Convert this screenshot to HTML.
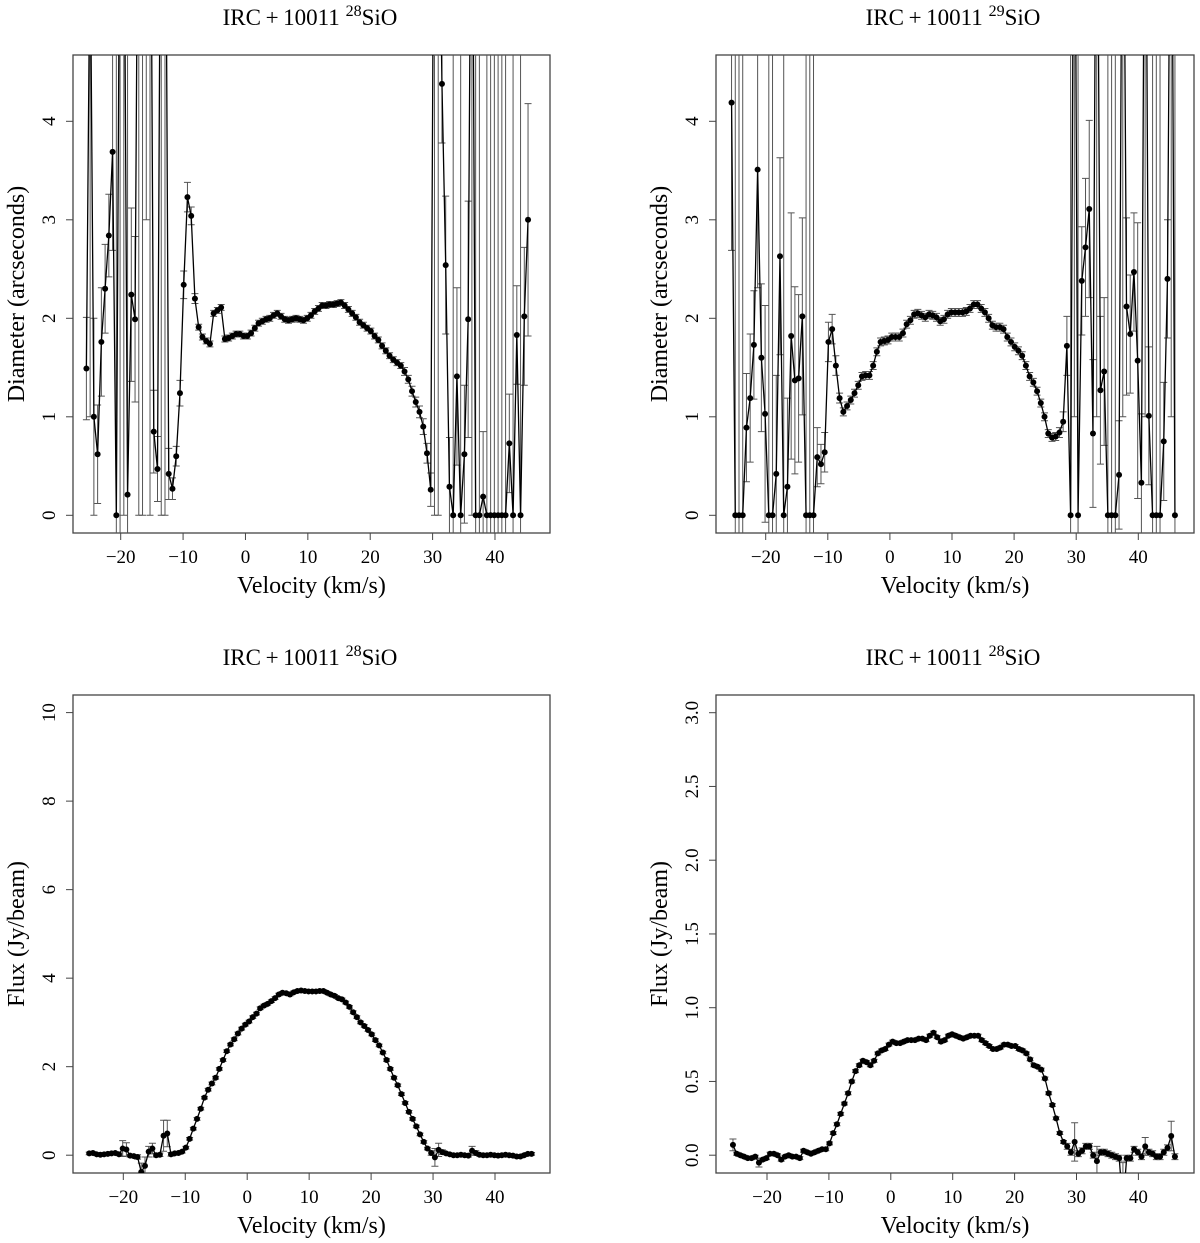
<!DOCTYPE html>
<html><head><meta charset="utf-8"><title>IRC+10011 SiO</title>
<style>
html,body{margin:0;padding:0;background:#fff;width:1200px;height:1243px;overflow:hidden;position:relative;}
svg{display:block;position:absolute;left:0;top:0;font-family:"Liberation Serif","DejaVu Serif",serif;}
</style></head>
<body>
<svg id="fig" width="1200" height="1243" viewBox="0 0 1200 1243" xmlns="http://www.w3.org/2000/svg">
<defs>
<clipPath id="c1"><rect x="73" y="55" width="477" height="478"/></clipPath>
<clipPath id="c2"><rect x="716" y="55" width="478" height="478"/></clipPath>
<clipPath id="c3"><rect x="73" y="695" width="477" height="478"/></clipPath>
<clipPath id="c4"><rect x="716" y="695" width="478" height="478"/></clipPath>
</defs>
</svg>
<script>
const velocity = [-25.5,-24.9,-24.3,-23.7,-23.1,-22.5,-21.9,-21.3,-20.7,-20.1,-19.5,-18.9,-18.3,-17.7,-17.1,-16.5,-15.9,-15.3,-14.7,-14.1,-13.5,-12.9,-12.3,-11.7,-11.1,-10.5,-9.9,-9.3,-8.7,-8.1,-7.5,-6.9,-6.3,-5.7,-5.1,-4.5,-3.9,-3.3,-2.7,-2.1,-1.5,-0.9,-0.3,0.3,0.9,1.5,2.1,2.7,3.3,3.9,4.5,5.1,5.7,6.3,6.9,7.5,8.1,8.7,9.3,9.9,10.5,11.1,11.7,12.3,12.9,13.5,14.1,14.7,15.3,15.9,16.5,17.1,17.7,18.3,18.9,19.5,20.1,20.7,21.3,21.9,22.5,23.1,23.7,24.3,24.9,25.5,26.1,26.7,27.3,27.9,28.5,29.1,29.7,30.3,30.9,31.5,32.1,32.7,33.3,33.9,34.5,35.1,35.7,36.3,36.9,37.5,38.1,38.7,39.3,39.9,40.5,41.1,41.7,42.3,42.9,43.5,44.1,44.7,45.3,45.9];

const diam28 = [1.49,6,1.0,0.62,1.76,2.3,2.84,3.69,0,7,7,0.21,2.24,1.99,8,8,7,8,0.85,0.47,8,8,0.42,0.27,0.60,1.24,2.34,3.23,3.04,2.2,1.91,1.81,1.77,1.74,2.05,2.08,2.11,1.79,1.80,1.82,1.84,1.84,1.82,1.82,1.85,1.90,1.95,1.97,1.99,2.0,2.03,2.05,2.02,1.99,1.98,1.99,2.0,1.99,1.98,2.0,2.03,2.07,2.1,2.13,2.13,2.14,2.14,2.15,2.16,2.13,2.09,2.05,2.01,1.96,1.93,1.90,1.87,1.82,1.78,1.72,1.67,1.62,1.58,1.55,1.52,1.46,1.38,1.26,1.15,1.05,0.9,0.63,0.26,8,7,4.38,2.54,0.29,0,1.41,0,0.62,1.99,8,0,0,0.19,0,0,0,0,0,0,0.73,0,1.83,0,2.02,3.0,null];
const diam28Err = [0.52,5,1.0,0.5,0.55,0.45,0.42,1.0,9,8,7,5,0.88,0.84,8,8,4,8,0.42,0.33,8,8,0.26,0.11,0.1,0.13,0.14,0.15,0.09,0.05,0.03,0.03,0.03,0.03,0.03,0.03,0.03,0.03,0.03,0.03,0.03,0.03,0.03,0.03,0.03,0.03,0.03,0.03,0.03,0.03,0.03,0.03,0.03,0.03,0.03,0.03,0.03,0.03,0.03,0.03,0.03,0.03,0.03,0.03,0.03,0.03,0.03,0.03,0.03,0.03,0.03,0.03,0.03,0.03,0.03,0.03,0.03,0.03,0.03,0.03,0.03,0.03,0.03,0.03,0.03,0.04,0.04,0.05,0.05,0.06,0.08,0.1,0.17,8,7,0.6,0.7,0.5,6,0.9,6,0.7,1.2,8,7,6,0.66,6,6,6,6,6,6,0.5,6,0.5,6,0.7,1.18,null];

const diam29 = [4.19,0,0,0,0.89,1.19,1.73,3.51,1.60,1.03,0,0,0.42,2.63,0,0.29,1.82,1.37,1.39,2.02,0,0,0,0.59,0.52,0.64,1.76,1.89,1.52,1.19,1.05,1.11,1.17,1.24,1.32,1.41,1.42,1.42,1.52,1.66,1.76,1.77,1.78,1.81,1.81,1.81,1.85,1.94,1.98,2.04,2.05,2.03,2.01,2.04,2.03,2.01,1.97,1.99,2.04,2.06,2.06,2.06,2.06,2.07,2.10,2.14,2.14,2.10,2.06,2.0,1.93,1.91,1.91,1.89,1.81,1.76,1.71,1.67,1.62,1.52,1.41,1.35,1.26,1.14,1.0,0.83,0.79,0.80,0.84,0.95,1.72,0,8,0,2.38,2.72,3.11,0.83,8,1.27,1.46,0,0,0,0.41,8,2.12,1.84,2.47,1.57,0.33,8,1.01,0,0,0,0.75,2.40,8,0];
const diam29Err = [1.5,6,6,6,0.55,0.65,0.55,1.2,0.75,1.1,6,6,1.0,1.0,6,0.9,1.25,0.95,0.85,1.0,6,6,6,0.3,0.2,0.2,0.2,0.15,0.1,0.05,0.04,0.04,0.04,0.04,0.04,0.04,0.04,0.04,0.04,0.04,0.04,0.04,0.04,0.04,0.04,0.04,0.04,0.04,0.04,0.04,0.04,0.04,0.04,0.04,0.04,0.04,0.04,0.04,0.04,0.04,0.04,0.04,0.04,0.04,0.04,0.04,0.04,0.04,0.04,0.04,0.04,0.04,0.04,0.04,0.04,0.04,0.04,0.04,0.04,0.04,0.04,0.04,0.04,0.04,0.04,0.04,0.04,0.04,0.05,0.1,0.3,6,7,6,0.55,0.7,0.9,0.75,7,0.75,0.75,6,6,6,0.55,7,0.9,0.6,0.6,1.4,0.7,7,0.7,6,6,6,0.6,0.6,7,6];

const flux28 = [0.04,0.05,0.02,0.01,0.02,0.03,0.04,0.05,0.02,0.15,0.13,-0.01,-0.02,-0.04,-0.38,-0.24,0.08,0.15,0.0,0.01,0.44,0.49,0.02,0.04,0.05,0.08,0.17,0.37,0.6,0.82,1.05,1.3,1.48,1.62,1.75,1.95,2.15,2.35,2.5,2.62,2.75,2.86,2.95,3.02,3.12,3.2,3.32,3.38,3.42,3.48,3.55,3.63,3.67,3.66,3.63,3.68,3.71,3.72,3.71,3.70,3.70,3.70,3.71,3.71,3.67,3.63,3.6,3.55,3.52,3.45,3.35,3.23,3.12,3.0,2.92,2.83,2.73,2.6,2.48,2.32,2.15,1.95,1.75,1.58,1.38,1.18,0.98,0.82,0.65,0.47,0.3,0.15,0.05,-0.05,0.12,0.07,0.04,0.02,0.0,0.0,0.01,0.0,-0.01,0.1,0.05,0.01,0.0,0.0,0.01,0.0,-0.01,0.0,0.01,0.0,-0.01,-0.03,-0.03,0.0,0.03,0.03];
const flux28Err = [0.03,0.03,0.03,0.03,0.03,0.03,0.03,0.03,0.03,0.18,0.15,0.03,0.03,0.05,0.2,0.2,0.12,0.12,0.04,0.04,0.35,0.3,0.04,0.03,0.03,0.03,0.03,0.03,0.03,0.03,0.03,0.03,0.03,0.03,0.03,0.03,0.03,0.03,0.03,0.03,0.03,0.03,0.03,0.03,0.03,0.03,0.03,0.03,0.03,0.03,0.03,0.03,0.03,0.03,0.03,0.03,0.03,0.03,0.03,0.03,0.03,0.03,0.03,0.03,0.03,0.03,0.03,0.03,0.03,0.03,0.03,0.03,0.03,0.03,0.03,0.03,0.03,0.03,0.03,0.03,0.03,0.03,0.03,0.03,0.03,0.03,0.03,0.03,0.03,0.03,0.03,0.03,0.05,0.2,0.15,0.05,0.03,0.03,0.03,0.03,0.03,0.03,0.03,0.1,0.05,0.03,0.03,0.03,0.03,0.03,0.03,0.03,0.03,0.03,0.03,0.03,0.03,0.03,0.03,0.03];

const flux29 = [0.07,0.01,0.0,-0.01,-0.02,-0.02,-0.01,-0.05,-0.03,-0.02,0.01,0.01,0.0,-0.03,-0.01,0.0,-0.01,-0.01,-0.02,0.03,0.02,0.01,0.02,0.03,0.04,0.04,0.08,0.15,0.21,0.28,0.35,0.42,0.5,0.57,0.61,0.64,0.63,0.61,0.64,0.69,0.71,0.72,0.75,0.77,0.76,0.76,0.77,0.78,0.78,0.78,0.79,0.79,0.78,0.81,0.83,0.80,0.77,0.78,0.81,0.82,0.81,0.80,0.79,0.80,0.81,0.81,0.81,0.78,0.76,0.74,0.72,0.72,0.73,0.75,0.75,0.74,0.74,0.72,0.71,0.69,0.65,0.61,0.60,0.58,0.52,0.42,0.34,0.25,0.15,0.09,0.06,0.02,0.09,0.01,0.03,0.06,0.06,0.0,-0.04,0.02,0.02,0.01,0.0,-0.01,-0.02,-0.35,-0.02,-0.02,0.04,0.02,-0.01,0.06,0.02,0.01,-0.01,-0.01,0.02,0.05,0.13,-0.01];
const flux29Err = [0.04,0.01,0.01,0.01,0.01,0.01,0.01,0.03,0.01,0.01,0.01,0.01,0.01,0.01,0.01,0.01,0.01,0.01,0.01,0.01,0.01,0.01,0.01,0.01,0.01,0.01,0.01,0.01,0.01,0.01,0.01,0.01,0.01,0.01,0.01,0.01,0.01,0.01,0.01,0.01,0.01,0.01,0.01,0.01,0.01,0.01,0.01,0.01,0.01,0.01,0.01,0.01,0.01,0.01,0.01,0.01,0.01,0.01,0.01,0.01,0.01,0.01,0.01,0.01,0.01,0.01,0.01,0.01,0.01,0.01,0.01,0.01,0.01,0.01,0.01,0.01,0.01,0.01,0.01,0.01,0.01,0.01,0.01,0.01,0.01,0.01,0.01,0.01,0.01,0.01,0.02,0.02,0.13,0.02,0.02,0.02,0.02,0.02,0.1,0.02,0.02,0.02,0.02,0.02,0.02,0.3,0.02,0.02,0.02,0.02,0.02,0.06,0.02,0.02,0.02,0.02,0.02,0.02,0.1,0.02];

const xTicks = [-20,-10,0,10,20,30,40];
const yTicksDiam = [0,1,2,3,4];
const yTicksFlux28 = [0,2,4,6,8,10];
const yTicksFlux29 = [0,0.5,1.0,1.5,2.0,2.5,3.0];
const yTickLabelsFlux29 = ["0.0","0.5","1.0","1.5","2.0","2.5","3.0"];

const NS = "http://www.w3.org/2000/svg";
const svg = document.getElementById('fig');
function mk(tag, attrs, parent){
  const e = document.createElementNS(NS, tag);
  for (const k in attrs) e.setAttribute(k, attrs[k]);
  (parent||svg).appendChild(e);
  return e;
}

function panel(p){
  const g = mk('g', {});
  
  
  const X = v => p.xm20 + (v + 20) * p.kx;
  const Y = v => p.y0 - v * p.ky;
  const top = p.by, bot = p.by + p.bh;
  const cl = y => Math.max(top - 2, Math.min(bot + 2, y));
  const t = mk('text', {x: p.tx, y: p.ty, 'text-anchor':'middle', 'font-size':23, fill:'#000'}, g);
  
  
  t.appendChild(document.createTextNode('IRC\u2009+\u200910011 '));
  const sup = mk('tspan', {'font-size':16, dy:-9}, t); sup.textContent = p.iso;
  const rest = mk('tspan', {dy:9}, t); rest.textContent = 'SiO';
  const box = mk('rect', {x:p.bx, y:p.by, width:p.bw, height:p.bh, fill:'none', stroke:'#444', 'stroke-width':1.3}, g);
  
  
  xTicks.forEach(v => {
    const tk = mk('line', {x1:X(v), x2:X(v), y1:bot, y2:bot+7, stroke:'#444', 'stroke-width':1}, g);
    
    
    const tl = mk('text', {x:X(v), y:bot+30, 'text-anchor':'middle', 'font-size':19}, g);
    
    
    tl.textContent = v < 0 ? '\u2212' + Math.abs(v) : String(v);
  });
  const xt = mk('text', {x:p.bx+p.bw/2, y:bot+60, 'text-anchor':'middle', 'font-size':24}, g);
  
  
  xt.textContent = 'Velocity (km/s)';
  p.yticks.forEach((v, i) => {
    const tk = mk('line', {x1:p.bx-7, x2:p.bx, y1:Y(v), y2:Y(v), stroke:'#444', 'stroke-width':1}, g);
    
    
    const lx = p.bx - 18, ly = Y(v);
    const tl = mk('text', {x:lx, y:ly, 'text-anchor':'middle', 'font-size':19, transform:`rotate(-90 ${lx} ${ly})`}, g);
    
    
    tl.textContent = p.ylabels ? p.ylabels[i] : String(v);
  });
  const yx = p.bx - 49, yy = p.by + p.bh/2;
  const yt = mk('text', {x:yx, y:yy, 'text-anchor':'middle', 'font-size':24, transform:`rotate(-90 ${yx} ${yy})`}, g);
  
  
  yt.textContent = p.ytitle;
  const dg = mk('g', {'clip-path':`url(#${p.clip})`}, g);
  
  
  velocity.forEach((v, i) => {
    const val = p.vals[i], e = p.errs[i];
    if (val === null || e === null) return;
    const x = X(v), y1 = cl(Y(val - e)), y2 = cl(Y(val + e));
    const eb = mk('path', {d:`M${x},${y1}V${y2}M${x-3.5},${y1}H${x+3.5}M${x-3.5},${y2}H${x+3.5}`, stroke:'#555', 'stroke-width':1, fill:'none'}, dg);
    
    
  });
  let d = '', pen = false;
  velocity.forEach((v, i) => {
    const val = p.vals[i];
    if (val === null) { pen = false; return; }
    d += (pen ? 'L' : 'M') + X(v).toFixed(2) + ',' + Y(val).toFixed(2);
    pen = true;
  });
  const ln = mk('path', {d:d, stroke:'#000', 'stroke-width':1.3, fill:'none', 'stroke-linejoin':'round'}, dg);
  
  
  velocity.forEach((v, i) => {
    const val = p.vals[i];
    if (val === null) return;
    const cy = Y(val);
    if (cy < top - 4 || cy > bot + 4) return;
    const c = mk('circle', {cx:X(v), cy:cy, r:3, fill:'#000'}, dg);
    
    
  });
}

panel({name:'panel-diameter-28sio', iso:'28', tx:310, ty:25, bx:73, by:55, bw:477, bh:478, clip:'c1',
  xm20:120.7, kx:6.238, y0:515.3, ky:98.5, yticks:yTicksDiam, ytitle:'Diameter (arcseconds)', vals:diam28, errs:diam28Err});
panel({name:'panel-diameter-29sio', iso:'29', tx:953, ty:25, bx:716, by:55, bw:478, bh:478, clip:'c2',
  xm20:765.7, kx:6.21, y0:515.3, ky:98.5, yticks:yTicksDiam, ytitle:'Diameter (arcseconds)', vals:diam29, errs:diam29Err});
panel({name:'panel-flux-28sio', iso:'28', tx:310, ty:665, bx:73, by:695, bw:477, bh:478, clip:'c3',
  xm20:123.3, kx:6.195, y0:1155.2, ky:44.26, yticks:yTicksFlux28, ytitle:'Flux (Jy/beam)', vals:flux28, errs:flux28Err});
panel({name:'panel-flux-sio-right', iso:'28', tx:953, ty:665, bx:716, by:695, bw:478, bh:478, clip:'c4',
  xm20:767, kx:6.19, y0:1155.2, ky:147.5, yticks:yTicksFlux29, ylabels:yTickLabelsFlux29, ytitle:'Flux (Jy/beam)', vals:flux29, errs:flux29Err});
</script>
</body></html>
